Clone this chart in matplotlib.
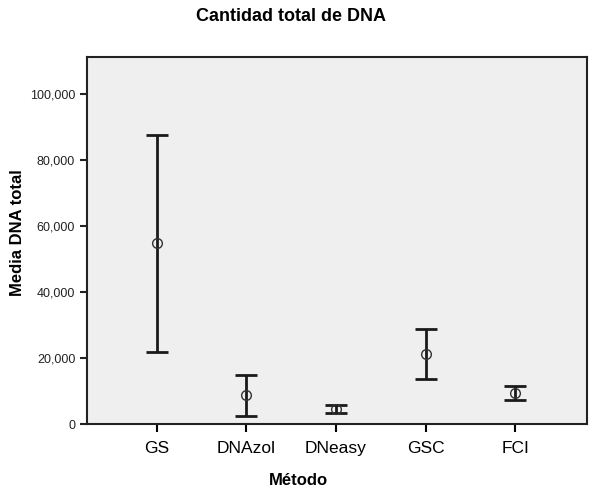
import numpy as np
import matplotlib
matplotlib.use('Agg')
import matplotlib.pyplot as plt
from matplotlib.ticker import FuncFormatter

plt.rcParams['font.family'] = ['Liberation Sans', 'DejaVu Sans']

# data
metodos = ['GS', 'DNAzol', 'DNeasy', 'GSC', 'FCI']
media = [54800, 8800, 4600, 21200, 9500]
ic_inf = [21800, 2500, 3500, 13700, 7300]
ic_sup = [87700, 15000, 5900, 28700, 11500]

x = np.arange(len(metodos))
media = np.array(media)
yerr = [media - np.array(ic_inf), np.array(ic_sup) - media]

fig = plt.figure(figsize=(5.94, 4.92), dpi=100)
ax = fig.add_axes([0.1465, 0.138, 0.988 - 0.1465, 0.884 - 0.138])
ax.set_facecolor('#efefef')

ax.errorbar(x, media, yerr=yerr, fmt='none', ecolor='#1a1a1a',
            elinewidth=2, capsize=8, capthick=2)
ax.plot(x, media, 'o', mfc='none', mec='#333333', ms=7, mew=1)

ax.set_xlim(-0.78, 4.8)
ax.set_ylim(0, 111300)
ax.set_xticks(x)
ax.set_xticklabels(metodos, fontsize=12.5)
ax.set_yticks(np.arange(0, 100001, 20000))
ax.yaxis.set_major_formatter(FuncFormatter(lambda v, p: f'{int(v):,}'))
ax.tick_params(axis='y', labelsize=9, length=5, width=1.5, colors='#222222')
ax.tick_params(axis='x', length=6, width=1.5, pad=6)

for s in ax.spines.values():
    s.set_linewidth(1.5)
    s.set_color('#222222')

fig.text(0.49, 0.967, 'Cantidad total de DNA', ha='center', va='center',
         fontsize=13, fontweight='bold')
fig.text(0.502, 0.024, 'Método', ha='center', va='center',
         fontsize=12, fontweight='bold')
fig.text(0.029, 0.528, 'Media DNA total', ha='center', va='center',
         rotation=90, fontsize=12, fontweight='bold')

fig.savefig('out.png', dpi=100)
